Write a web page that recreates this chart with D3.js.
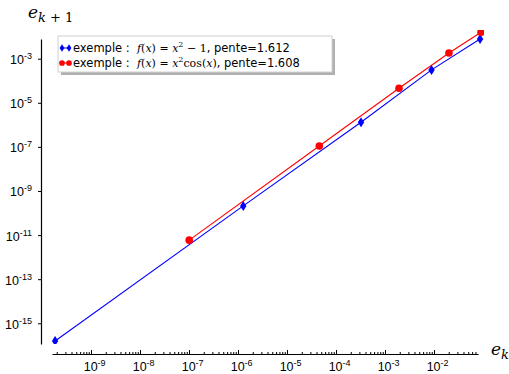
<!DOCTYPE html>
<html>
<head>
<meta charset="utf-8">
<script src="https://cdn.jsdelivr.net/npm/d3@7"></script>
<style>
body { margin:0; background:#fff; }
svg { font-family:"DejaVu Sans", sans-serif; }
.axis text { font-size:12.5px; }
.axis text tspan.sup { font-size:9px; }
</style>
</head>
<body>
<div id="chart"></div>
<script>
// blue: f(x)=x^2-1, red: f(x)=x^2 cos x  (points e_k, e_{k+1})
var blueEk  = [1.85e-10, 1.28e-6, 3.24e-4, 8.9e-3, 8.7e-2];
var blueEk1 = [1.58e-16, 2.1e-10, 1.32e-6, 3.1e-4, 7.8e-3];
var redEk   = [1.01e-7, 4.56e-5, 1.93e-3, 2.02e-2, 9.1e-2];
var redEk1  = [5.9e-12, 1.1e-7, 4.57e-5, 1.82e-3, 1.58e-2];
var xTicks = [1e-9, 1e-8, 1e-7, 1e-6, 1e-5, 1e-4, 1e-3, 1e-2];
var yTicks = [1e-3, 1e-5, 1e-7, 1e-9, 1e-11, 1e-13, 1e-15];
// math pieces: 0 = upright, 1 = italic, 2 = superscript
var legendLabels = [
    {color:"blue", marker:"diamond", math:[["f",1],["(",0],["x",1],[")",0],[" = ",0],["x",1],["2",2],[" − 1",0]], slope:"1.612"},
    {color:"red", marker:"circle", math:[["f",1],["(",0],["x",1],[")",0],[" = ",0],["x",1],["2",2],["cos",0],["(",0],["x",1],[")",0]], slope:"1.608"}
];

var W = 509, H = 374;
var svg = d3.select("#chart").append("svg")
    .attr("width", W)
    .attr("height", H);

var scaleX = d3.scaleLog().domain([Math.pow(10,-9.796), Math.pow(10,-1.102)]).range([52, 478]);
var scaleY = d3.scaleLog().domain([Math.pow(10,-15.94), Math.pow(10,-2.107)]).range([344, 39]);

svg.append("clipPath").attr("id", "clip")
    .append("rect").attr("x", 40).attr("y", 30).attr("width", 444).attr("height", 314);

function supLabel(sel) {
    sel.each(function(d) {
        var t = d3.select(this);
        var e = Math.round(Math.log10(d));
        t.text(null);
        t.append("tspan").attr("font-size", "12.5px").text("10");
        t.append("tspan").attr("class", "sup").attr("dy", "-5").attr("font-size", "9px").text(e);
    });
}

// x axis: major + minor ticks pointing up
var minor = [];
for (var p = -10; p <= -1; p++) {
    for (var m = 2; m <= 9; m++) {
        var v = m * Math.pow(10, p);
        if (v >= scaleX.domain()[0] && v <= scaleX.domain()[1]) minor.push(v);
    }
}
svg.append("g")
    .attr("transform", "translate(0,354)")
    .call(d3.axisBottom(scaleX).tickValues(minor).tickSize(-2).tickFormat("").tickSizeOuter(0))
    .call(function(g){ g.select(".domain").remove(); });

var gx = svg.append("g")
    .attr("class", "x axis")
    .attr("transform", "translate(0,354)")
    .call(d3.axisBottom(scaleX).tickValues(xTicks).tickSize(-4).tickPadding(6).tickSizeOuter(0));
gx.attr("font-size", null);
gx.selectAll(".tick text").attr("fill", "#000").attr("dy", "0.9em").attr("dx", "0.25em").call(supLabel);

var gy = svg.append("g")
    .attr("class", "y axis")
    .attr("transform", "translate(41,0)")
    .call(d3.axisLeft(scaleY).tickValues(yTicks).tickSize(3).tickPadding(6).tickSizeOuter(0));
gy.attr("font-size", null);
gy.selectAll(".tick text").attr("fill", "#000").attr("dy", "0.4em").call(supLabel);

svg.selectAll(".domain").attr("stroke", "#000").attr("stroke-width", 1.2);

// axis labels
var yl = svg.append("text").attr("x", 28).attr("y", 18)
    .attr("font-family", "DejaVu Serif, serif").attr("font-style", "italic").attr("font-size", "17px");
yl.append("tspan").text("e");
yl.append("tspan").attr("dy", "4").attr("font-size", "13px").text("k");
yl.append("tspan").attr("font-size", "13px").attr("font-style", "normal").text(" + 1");

var xl = svg.append("text").attr("x", 491).attr("y", 355)
    .attr("font-family", "DejaVu Serif, serif").attr("font-style", "italic").attr("font-size", "17px");
xl.append("tspan").text("e");
xl.append("tspan").attr("dy", "4").attr("font-size", "13px").text("k");

var line = d3.line()
    .x(function(d){ return scaleX(d[0]); })
    .y(function(d){ return scaleY(d[1]); });

var series = [
    {name:"blue", color:"blue", pts:d3.zip(blueEk, blueEk1), marker:"diamond"},
    {name:"red", color:"red", pts:d3.zip(redEk, redEk1), marker:"circle"}
];

var plot = svg.append("g").attr("clip-path", "url(#clip)");

function drawMarker(g, kind, color, x, y, s) {
    s = s || 1;
    if (kind === "circle") {
        g.append("circle").attr("cx", x).attr("cy", y).attr("r", 3.8 * s).attr("fill", color);
    } else {
        g.append("path")
            .attr("d", "M" + x + "," + (y - 5 * s) + "L" + (x + 3.2 * s) + "," + y + "L" + x + "," + (y + 5 * s) + "L" + (x - 3.2 * s) + "," + y + "Z")
            .attr("fill", color);
    }
}

series.forEach(function(s) {
    plot.append("path")
        .attr("d", line(s.pts))
        .attr("fill", "none")
        .attr("stroke", s.color)
        .attr("stroke-width", 1.1);
});
series.forEach(function(s) {
    s.pts.forEach(function(d) {
        drawMarker(plot, s.marker, s.color, scaleX(d[0]), scaleY(d[1]));
    });
});

// legend
var lg = svg.append("g").attr("transform", "translate(58,36)");
lg.append("rect").attr("x", 3).attr("y", 3).attr("width", 274).attr("height", 36).attr("fill", "#b0b0b0");
lg.append("rect").attr("width", 274).attr("height", 36).attr("fill", "#fff").attr("stroke", "#d0d0d0");

legendLabels.forEach(function(d, i) {
    var cy = 12 + i * 15;
    var base = cy + 4;
    lg.append("line").attr("x1", 4).attr("x2", 11).attr("y1", cy).attr("y2", cy)
        .attr("stroke", d.color).attr("stroke-width", 1);
    drawMarker(lg, d.marker, d.color, 4, cy, 0.75);
    drawMarker(lg, d.marker, d.color, 11, cy, 0.75);
    var t = lg.append("text").attr("x", 15).attr("y", base).attr("font-size", "11.5px");
    t.append("tspan").text("exemple : \u00a0");
    d.math.forEach(function(m) {
        var ts = t.append("tspan").attr("font-family", "DejaVu Serif, serif").attr("font-size", "11px")
            .attr("y", base).text(m[0]);
        if (m[1] === 1) ts.attr("font-style", "italic");
        if (m[1] === 2) ts.attr("y", base - 5).attr("font-size", "8px");
    });
    t.append("tspan").attr("y", base).text(", pente=" + d.slope);
});
</script>
</body>
</html>
